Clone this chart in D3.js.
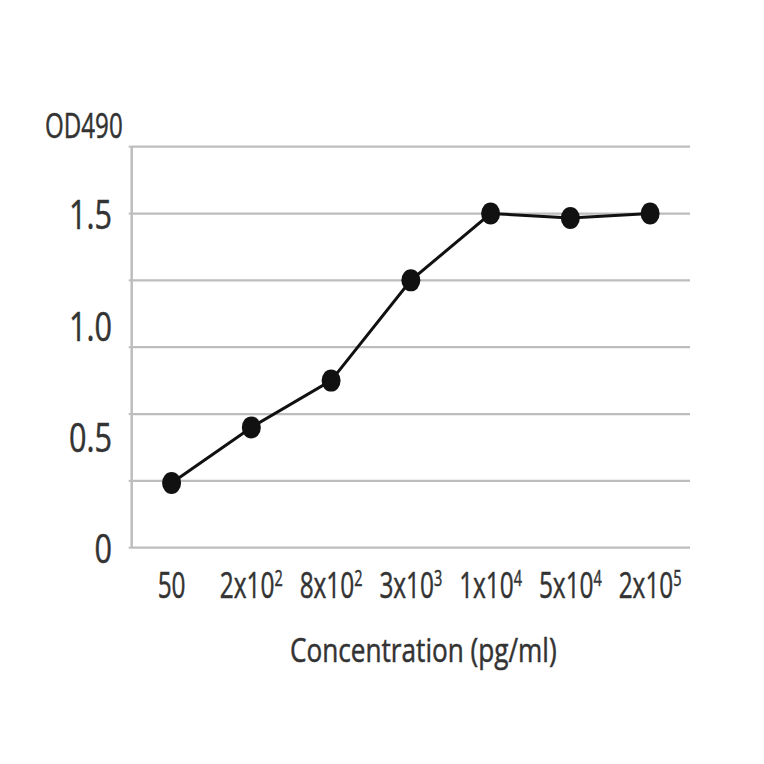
<!DOCTYPE html>
<html>
<head>
<meta charset="utf-8">
<script src="https://cdn.jsdelivr.net/npm/d3@7"></script>
<style>
  html, body { margin: 0; padding: 0; background: #fff; }
  svg { display: block; }
  text { font-family: "Open Sans", "Noto Sans", sans-serif; fill: #333; stroke: #333; stroke-width: 0.5px; }
</style>
</head>
<body>
<svg id="chart" width="764" height="764"></svg>
<script>
// ---- data ----
const categories = ["50", "2x10^2", "8x10^2", "3x10^3", "1x10^4", "5x10^4", "2x10^5"];
const odValues = [0.29, 0.54, 0.75, 1.2, 1.5, 1.48, 1.5];
const gridValues = [0, 0.3, 0.6, 0.9, 1.2, 1.5, 1.8];
const yTickValues = [0, 0.5, 1.0, 1.5];
const yTickLabels = ["0", "0.5", "1.0", "1.5"];
const yAxisTitle = "OD490";
const xAxisTitle = "Concentration (pg/ml)";

// ---- layout ----
const svg = d3.select("#chart");
const plotL = 131.7, plotR = 690, plotT = 146.7, plotB = 547.7;

const x = d3.scalePoint().domain(categories).range([plotL, plotR]).padding(0.5);
const y = d3.scaleLinear().domain([0, 1.8]).range([plotB, plotT]);

// gridlines
svg.append("g").selectAll("line").data(gridValues).join("line")
  .attr("x1", plotL).attr("x2", plotR)
  .attr("y1", d => y(d)).attr("y2", d => y(d))
  .attr("stroke", "#bdbdbd").attr("stroke-width", 2.2);

// left axis line with small ticks
svg.append("line").attr("x1", plotL).attr("x2", plotL)
  .attr("y1", y(1.8)).attr("y2", y(0))
  .attr("stroke", "#bdbdbd").attr("stroke-width", 2.5);
svg.append("g").selectAll("line").data(gridValues).join("line")
  .attr("x1", plotL - 3).attr("x2", plotL)
  .attr("y1", d => y(d)).attr("y2", d => y(d))
  .attr("stroke", "#bdbdbd").attr("stroke-width", 2);

// helper for condensed text
function addText(g, str, tx, ty, size, sx, anchor) {
  return g.append("text")
    .attr("transform", `translate(${tx},${ty}) scale(${sx},1)`)
    .attr("text-anchor", anchor)
    .attr("font-size", size)
    .text(str);
}

// y tick labels
const yLab = svg.append("g");
yTickValues.forEach((v, i) => {
  addText(yLab, yTickLabels[i], 112, y(v), 39.7, 0.77, "end")
    .attr("dominant-baseline", "central");
});

// y axis title
addText(svg, yAxisTitle, 45, 138.3, 35, 0.69, "start");

// x tick labels with superscripts
const xLab = svg.append("g");
categories.forEach(c => {
  const parts = c.split("^");
  const t = xLab.append("text")
    .attr("transform", `translate(${x(c)},598.3) scale(0.66,1)`)
    .attr("text-anchor", "middle")
    .attr("font-size", 37);
  t.append("tspan").text(parts[0]);
  if (parts.length > 1) {
    t.append("tspan").attr("font-size", 22).attr("dy", -12).text(parts[1]);
  }
});

// x axis title
addText(svg, xAxisTitle, 290, 661.7, 32.7, 0.8, "start");

// line
const data = categories.map((c, i) => ({ c, v: odValues[i] }));
svg.append("path").datum(data)
  .attr("fill", "none").attr("stroke", "#111").attr("stroke-width", 3)
  .attr("d", d3.line().x(d => x(d.c)).y(d => y(d.v)));

// markers
svg.append("g").selectAll("ellipse").data(data).join("ellipse")
  .attr("cx", d => x(d.c)).attr("cy", d => y(d.v))
  .attr("rx", 9.5).attr("ry", 11)
  .attr("fill", "#111");
</script>
</body>
</html>
